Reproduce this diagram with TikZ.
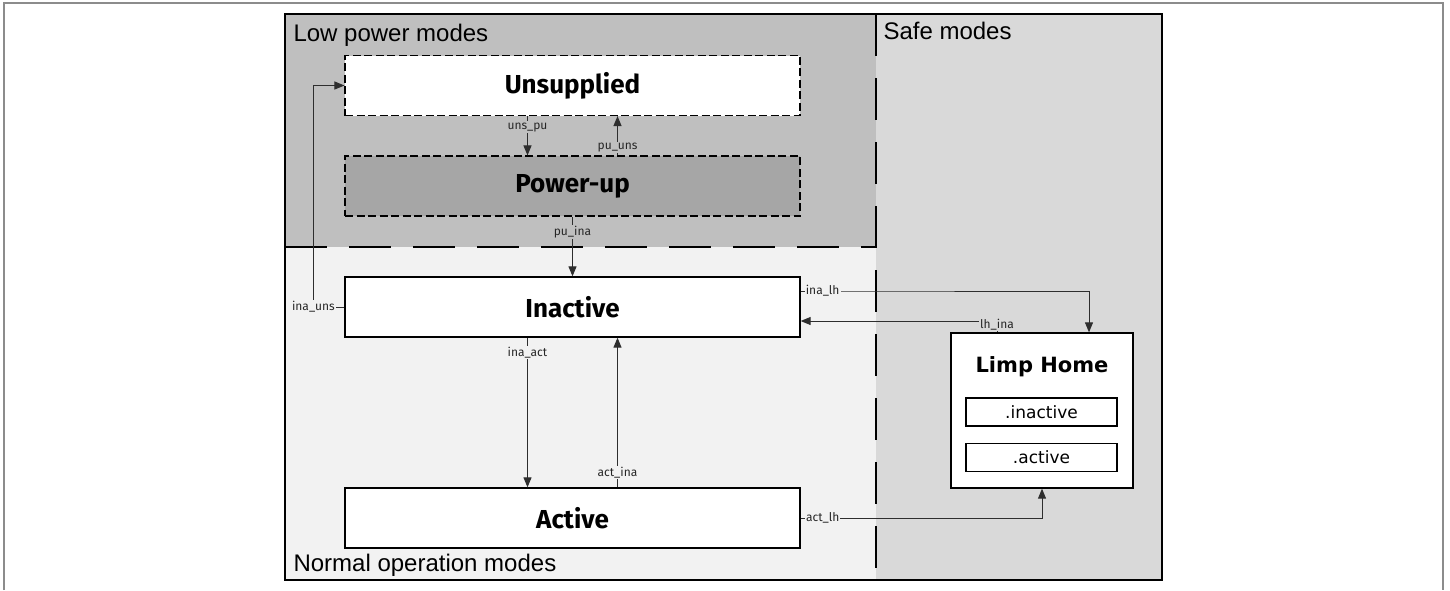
\documentclass[tikz,border=0pt]{standalone}
\usepackage{fontspec}
\setmainfont{Liberation Sans}
\newfontfamily\modefont{Fira Sans}
\newfontfamily\lhfont{DejaVu Sans}
\usetikzlibrary{arrows.meta}

\definecolor{lowfill}{HTML}{BFBFBF}
\definecolor{normfill}{HTML}{F2F2F2}
\definecolor{safefill}{HTML}{D9D9D9}
\definecolor{pufill}{HTML}{A6A6A6}
\definecolor{connline}{HTML}{2E2E2E}
\definecolor{pageline}{HTML}{8C8C8C}

\tikzset{
  modebox/.style={draw, line width=1.3pt, fill=white, minimum width=455pt, minimum height=60pt,
    inner sep=0pt, font=\modefont\bfseries\fontsize{26}{26}\selectfont},
  lowbox/.style={modebox, line width=1.1pt, dash pattern=on 8pt off 3.5pt},
  subbox/.style={draw, line width=1.2pt, fill=white, minimum width=151pt, minimum height=28pt,
    inner sep=0pt, font=\lhfont\fontsize{17}{17}\selectfont},
  regionline/.style={line width=2.8pt, dash pattern=on 42pt off 22pt},
  regionlbl/.style={anchor=base west, font=\fontsize{24}{24}\selectfont},
  conn/.style={draw=connline, line width=1pt, -{Triangle[length=10pt,width=8pt]}},
  lbl/.style={font=\modefont\fontsize{12}{12}\selectfont, text=black!85, inner sep=1.2pt}
}

\begin{document}
\begin{tikzpicture}[x=1pt,y=-1pt]
    \useasboundingbox (0,0) rectangle (1450,590);
    \draw[pageline, line width=1.2pt] (4,590) -- (4,3) -- (1443,3) -- (1443,590);

    % regions
    \fill[lowfill] (285,14) rectangle (876,247);
    \fill[normfill] (285,247) rectangle (876,580);
    \fill[safefill] (876,14) rectangle (1162,580);
    \draw[regionline] (285,247) -- (876,247);
    \draw[regionline] (876,14) -- (876,580);
    \draw[line width=2.8pt] (285,14) rectangle (1162,580);
    \node[regionlbl] (lowlbl) at (290,41) {Low power modes};
    \node[regionlbl] (safelbl) at (880,39) {Safe modes};
    \node[regionlbl] (normlbl) at (290,571) {Normal operation modes};

    % modes
    \node[lowbox] (uns) at (572.5,85.5) {Unsupplied};
    \node[lowbox, fill=pufill] (pu) at (572.5,186) {Power-up};
    \node[modebox] (ina) at (572.5,307) {Inactive};
    \node[modebox] (act) at (572.5,518) {Active};

    % limp home
    \node[draw, line width=1.3pt, fill=white, minimum width=182pt, minimum height=155pt] (lh) at (1042,410.5) {};
    \node[font=\lhfont\bfseries\fontsize{21}{21}\selectfont] (lhtitle) at (1042,367) {Limp Home};
    \node[subbox] (lhina) at (1041.5,412) {.inactive};
    \node[subbox] (lhact) at (1041.5,457.5) {.active};

    % transitions
    \draw[conn] ([xshift=-45pt]uns.south) -- node[lbl, fill=lowfill, pos=0.28] {uns\_pu} ([xshift=-45pt]pu.north);
    \draw[conn] ([xshift=45pt]pu.north) -- node[lbl, fill=lowfill, pos=0.2] {pu\_uns} ([xshift=45pt]uns.south);
    \draw[conn] (pu.south) -- node[lbl, fill=lowfill, pos=0.26] {pu\_ina} (ina.north);
    \draw[conn] (ina.west) -- ++(-31,0) node[lbl, fill=normfill] {ina\_uns} |- (uns.west);
    \draw[conn] ([xshift=-45pt]ina.south) -- node[lbl, fill=normfill, pos=0.1] {ina\_act} ([xshift=-45pt]act.north);
    \draw[conn] ([xshift=45pt]act.north) -- node[lbl, fill=normfill, pos=0.1] {act\_ina} ([xshift=45pt]ina.south);
    \draw[conn] ([yshift=16pt]ina.east) -- ++(22,0) node[lbl, fill=normfill] {ina\_lh} -| ([xshift=47pt]lh.north);
    \draw[conn] ([xshift=-45pt]lh.north) |- node[lbl, fill=safefill, pos=0.35] {lh\_ina} ([yshift=-14pt]ina.east);
    \draw[conn] (act.east) -- ++(22,0) node[lbl, fill=normfill] {act\_lh} -| (lh.south);
\end{tikzpicture}
\end{document}
